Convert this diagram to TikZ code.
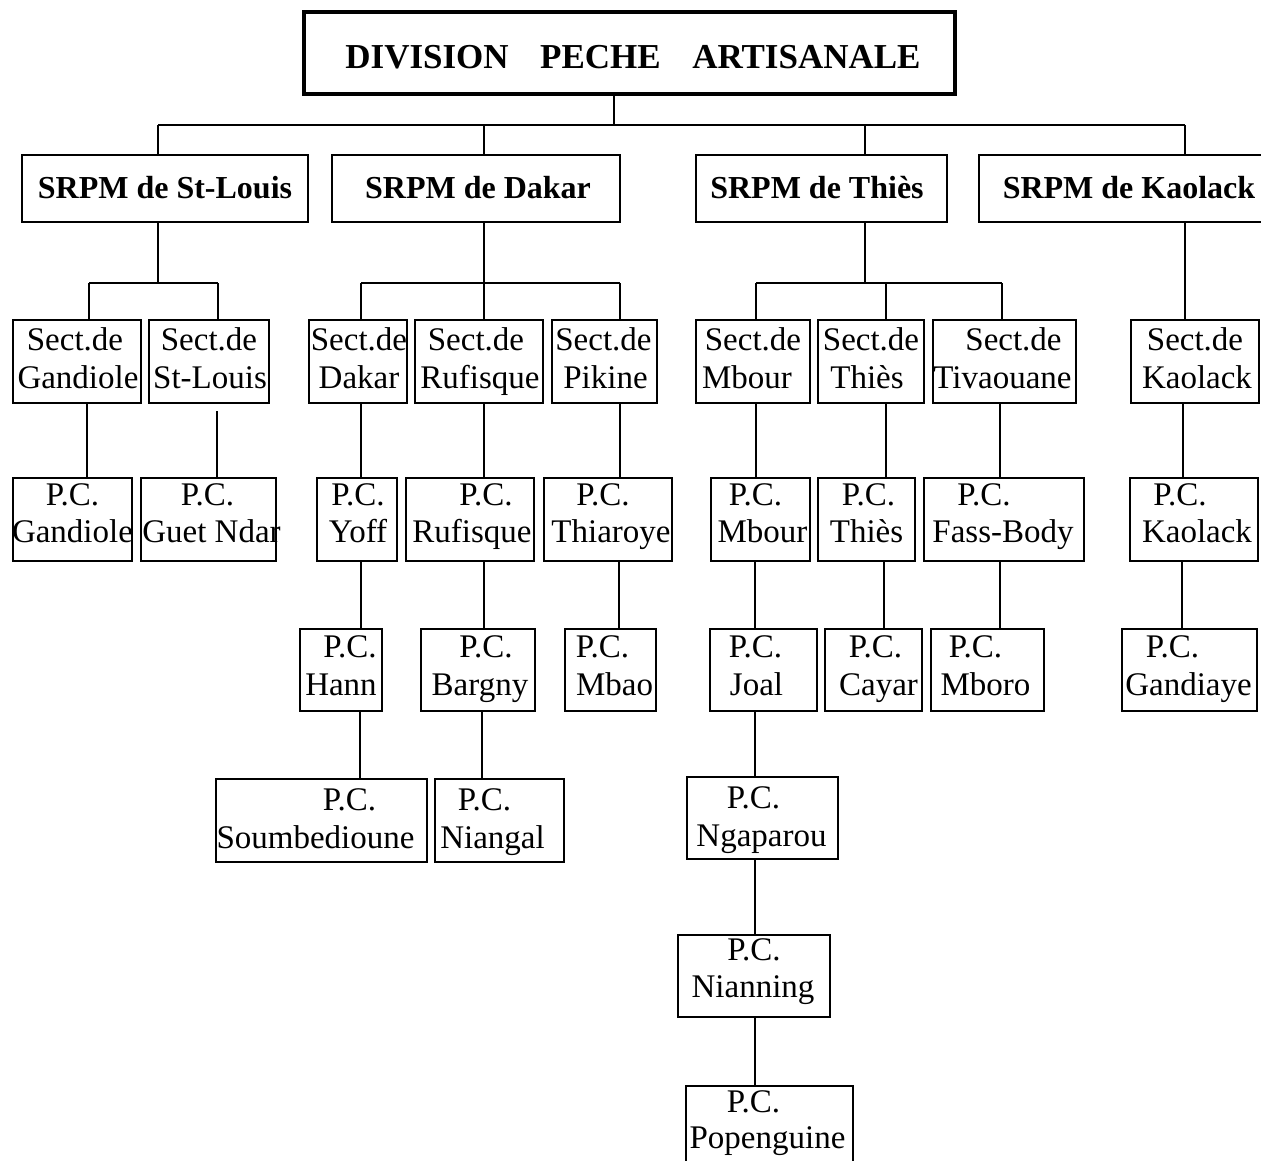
\documentclass[tikz,border=0pt]{standalone}
\usepackage{fontspec}
\setmainfont{Liberation Serif}
\begin{document}
\tikzset{
  frame/.style={draw=black, line width=1.6pt, inner sep=0pt, outer sep=0pt, fill=none},
  conn/.style={draw=black, line width=1.4pt},
  lbl/.style={inner sep=0pt, outer sep=0pt, font=\fontsize{33}{38}\selectfont},
  head/.style={inner sep=0pt, outer sep=0pt, font=\fontsize{32}{36}\selectfont\bfseries},
}
% two-line box: name, x1, y1, x2, y2, shift of line 1, line 1, shift of line 2, line 2
\newcommand\orgbox[9]{%
  \node[frame, minimum width={(#4-#2)*1pt}, minimum height={(#5-#3)*1pt}]
    (#1) at ({(#2+#4)/2},{(#3+#5)/2}) {};
  \node[lbl, anchor=base] (#1-a) at ({(#2+#4)/2+(#6)},{#3+\baseA}) {#7};
  \node[lbl, anchor=base] (#1-b) at ({(#2+#4)/2+(#8)},{#3+\baseB}) {#9};
}
% vertical connector at a given x between two boxes
\newcommand\vlink[3]{%
  \coordinate (lx) at (#1,0);
  \draw[conn] (#2.south -| lx) -- (#3.north -| lx);
}
\begin{tikzpicture}[x=1pt, y=-1pt]
\useasboundingbox (0,0) rectangle (1261,1160);
\fill[white] (0,0) rectangle (1261,1160);
\clip (0,0) rectangle (1261,1160);

% ---- head of the chart
\node[draw=black, line width=4pt, inner sep=0pt, minimum width=651pt, minimum height=82pt]
  (title) at (629.5,53) {};
\node[inner sep=0pt, anchor=base, font=\fontsize{35}{40}\selectfont\bfseries]
  (title-t) at (633,68) {DIVISION\hspace{0.9em}PECHE\hspace{0.9em}ARTISANALE};

% ---- regional services
\node[frame, minimum width=286pt, minimum height=67pt] (srpmSL) at (165,188.5) {};
\node[frame, minimum width=288pt, minimum height=67pt] (srpmDK) at (476,188.5) {};
\node[frame, minimum width=251pt, minimum height=67pt] (srpmTH) at (821.5,188.5) {};
\node[frame, minimum width=310pt, minimum height=67pt] (srpmKL) at (1134,188.5) {};
\node[head, anchor=base] (srpmSL-t) at (165,198) {SRPM de St-Louis};
\node[head, anchor=base] (srpmDK-t) at (478,198) {SRPM de Dakar};
\node[head, anchor=base] (srpmTH-t) at (817,198) {SRPM de Thiès};
\node[head, anchor=base] (srpmKL-t) at (1129,198) {SRPM de Kaolack};

% ---- sections
\def\baseA{30}\def\baseB{68}
\orgbox{sectGD}{13}{320}{141}{403}{-2}{Sect.de}{1}{Gandiole}
\orgbox{sectSL}{149}{320}{269}{403}{0}{Sect.de}{1}{St-Louis}
\orgbox{sectDK}{309}{320}{407}{403}{1}{Sect.de}{1}{Dakar}
\orgbox{sectRF}{415}{320}{543}{403}{-3}{Sect.de}{1}{Rufisque}
\orgbox{sectPK}{552}{320}{657}{403}{-1}{Sect.de}{1}{Pikine}
\orgbox{sectMB}{696}{320}{810}{403}{0}{Sect.de}{-6}{Mbour}
\orgbox{sectTS}{818}{320}{924}{403}{0}{Sect.de}{-4}{Thiès}
\orgbox{sectTV}{933}{320}{1076}{403}{9}{Sect.de}{-2}{Tivaouane}
\orgbox{sectKL}{1131}{320}{1259}{403}{0}{Sect.de}{2}{Kaolack}

% ---- landing points, first row
\def\baseA{27}\def\baseB{64}
\orgbox{pcGD}{13}{478}{132}{561}{0}{P.C.}{0}{Gandiole}
\orgbox{pcGN}{141}{478}{276}{561}{-1}{P.C.}{3}{Guet Ndar}
\orgbox{pcYF}{317}{478}{397}{561}{1}{P.C.}{1}{Yoff}
\orgbox{pcRF}{406}{478}{534}{561}{16}{P.C.}{2}{Rufisque}
\orgbox{pcTR}{544}{478}{672}{561}{-5}{P.C.}{3}{Thiaroye}
\orgbox{pcMB}{711}{478}{810}{561}{-5}{P.C.}{2}{Mbour}
\orgbox{pcTS}{818}{478}{915}{561}{2}{P.C.}{0}{Thiès}
\orgbox{pcFB}{924}{478}{1084}{561}{-20}{P.C.}{-1}{Fass-Body}
\orgbox{pcKL}{1130}{478}{1258}{561}{-14}{P.C.}{3}{Kaolack}

% ---- second row
\def\baseA{28}\def\baseB{66}
\orgbox{pcHN}{300}{629}{382}{711}{9}{P.C.}{0}{Hann}
\orgbox{pcBG}{421}{629}{535}{711}{8}{P.C.}{2}{Bargny}
\orgbox{pcMO}{565}{629}{656}{711}{-8}{P.C.}{4}{Mbao}
\orgbox{pcJL}{710}{629}{817}{711}{-8}{P.C.}{-7}{Joal}
\orgbox{pcCY}{825}{629}{922}{711}{2}{P.C.}{5}{Cayar}
\orgbox{pcMR}{931}{629}{1044}{711}{-12}{P.C.}{-2}{Mboro}
\orgbox{pcGY}{1122}{629}{1257}{711}{-17}{P.C.}{-1}{Gandiaye}

% ---- third row
\def\baseA{31}\def\baseB{69}
\orgbox{pcSB}{216}{779}{427}{862}{28}{P.C.}{-6}{Soumbedioune}
\orgbox{pcNG}{435}{779}{564}{862}{-15}{P.C.}{-7}{Niangal}
\orgbox{pcNP}{687}{777}{838}{859}{-9}{P.C.}{-1}{Ngaparou}

% ---- last landing points
\def\baseA{25}\def\baseB{62}
\orgbox{pcNN}{678}{935}{830}{1017}{0}{P.C.}{-1}{Nianning}
\def\baseA{26}\def\baseB{62}
\orgbox{pcPP}{686}{1086}{853}{1172}{-16}{P.C.}{-2}{Popenguine}

% ---- connectors from the division to the regional services
\coordinate (j0) at (614,125);
\coordinate (jSL) at (158,125);
\coordinate (jDK) at (484,125);
\coordinate (jTH) at (865,125);
\coordinate (jKL) at (1185,125);
\draw[conn] (title.south -| j0) -- (j0);
\draw[conn] (jSL) -- (jKL);
\draw[conn] (jSL) -- (jSL |- srpmSL.north);
\draw[conn] (jDK) -- (jDK |- srpmDK.north);
\draw[conn] (jTH) -- (jTH |- srpmTH.north);
\draw[conn] (jKL) -- (jKL |- srpmKL.north);

% ---- St-Louis branch
\coordinate (kSL) at (158,283);
\coordinate (kSL1) at (89,283);
\coordinate (kSL2) at (218,283);
\draw[conn] (srpmSL.south -| kSL) -- (kSL);
\draw[conn] (kSL1) -- (kSL2);
\draw[conn] (kSL1) -- (kSL1 |- sectGD.north);
\draw[conn] (kSL2) -- (kSL2 |- sectSL.north);

% ---- Dakar branch
\coordinate (kDK) at (484,283);
\coordinate (kDK1) at (361,283);
\coordinate (kDK3) at (620,283);
\draw[conn] (srpmDK.south -| kDK) -- (kDK);
\draw[conn] (kDK1) -- (kDK3);
\draw[conn] (kDK1) -- (kDK1 |- sectDK.north);
\draw[conn] (kDK) -- (kDK |- sectRF.north);
\draw[conn] (kDK3) -- (kDK3 |- sectPK.north);

% ---- Thiès branch
\coordinate (kTH) at (865,283);
\coordinate (kTH1) at (756,283);
\coordinate (kTH2) at (886,283);
\coordinate (kTH3) at (1002,283);
\draw[conn] (srpmTH.south -| kTH) -- (kTH);
\draw[conn] (kTH1) -- (kTH3);
\draw[conn] (kTH1) -- (kTH1 |- sectMB.north);
\draw[conn] (kTH2) -- (kTH2 |- sectTS.north);
\draw[conn] (kTH3) -- (kTH3 |- sectTV.north);

% ---- Kaolack branch
\vlink{1185}{srpmKL}{sectKL}

% ---- sections to landing points
\vlink{87}{sectGD}{pcGD}
\coordinate (lx) at (217,0);
\draw[conn] ([yshift=-8pt]sectSL.south -| lx) -- (pcGN.north -| lx);
\vlink{361}{sectDK}{pcYF}
\vlink{484}{sectRF}{pcRF}
\vlink{620}{sectPK}{pcTR}
\vlink{756}{sectMB}{pcMB}
\vlink{886}{sectTS}{pcTS}
\vlink{1000}{sectTV}{pcFB}
\vlink{1183}{sectKL}{pcKL}

% ---- landing point chains
\vlink{361}{pcYF}{pcHN}
\vlink{484}{pcRF}{pcBG}
\vlink{619}{pcTR}{pcMO}
\vlink{755}{pcMB}{pcJL}
\vlink{884}{pcTS}{pcCY}
\vlink{1000}{pcFB}{pcMR}
\vlink{1182}{pcKL}{pcGY}
\vlink{360}{pcHN}{pcSB}
\vlink{482}{pcBG}{pcNG}
\vlink{755}{pcJL}{pcNP}
\vlink{755}{pcNP}{pcNN}
\vlink{755}{pcNN}{pcPP}
\end{tikzpicture}
\end{document}
